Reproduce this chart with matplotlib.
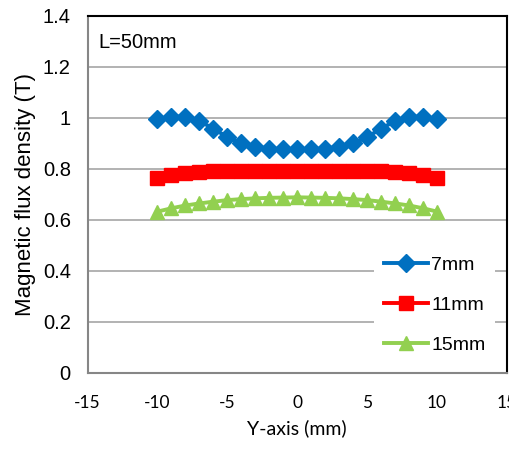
import matplotlib
matplotlib.use("Agg")
import matplotlib.pyplot as plt

x = [-10, -9, -8, -7, -6, -5, -4, -3, -2, -1, 0, 1, 2, 3, 4, 5, 6, 7, 8, 9, 10]
b7 = [0.993, 1.004, 1.004, 0.987, 0.957, 0.924, 0.899, 0.886, 0.879, 0.877, 0.876,
      0.877, 0.879, 0.886, 0.899, 0.924, 0.957, 0.987, 1.004, 1.004, 0.993]
b11 = [0.763, 0.776, 0.785, 0.789, 0.791, 0.791, 0.791, 0.791, 0.791, 0.791, 0.791,
       0.791, 0.791, 0.791, 0.791, 0.791, 0.791, 0.789, 0.785, 0.776, 0.763]
b15 = [0.632, 0.645, 0.656, 0.664, 0.671, 0.677, 0.681, 0.684, 0.686, 0.687, 0.688,
       0.687, 0.686, 0.684, 0.681, 0.677, 0.671, 0.664, 0.656, 0.645, 0.632]
labels = ["7mm", "11mm", "15mm"]
xticks = [-15, -10, -5, 0, 5, 10, 15]
yticks = [0, 0.2, 0.4, 0.6, 0.8, 1.0, 1.2, 1.4]
ytick_labels = ["0", "0.2", "0.4", "0.6", "0.8", "1", "1.2", "1.4"]

fig = plt.figure(figsize=(5.09, 4.5), dpi=100)
ax = fig.add_axes([87.5/509, 1 - 373/450, (507 - 87.5)/509, (373 - 15.5)/450])

ax.plot(x, b7, color="#0070C0", lw=2.8, marker="D", ms=9.5, label=labels[0], zorder=5)
ax.plot(x, b11, color="#FF0000", lw=2.8, marker="s", ms=9.5, label=labels[1], zorder=4)
ax.plot(x, b15, color="#92D050", lw=2.8, marker="^", ms=10.5, label=labels[2], zorder=3)

ax.set_xlim(-15, 15)
ax.set_ylim(0, 1.4)
ax.set_xticks(xticks)
ax.set_xticklabels([str(t) for t in xticks], fontfamily="Lato", fontsize=12.5)
ax.set_yticks(yticks)
ax.set_yticklabels(ytick_labels, fontfamily="Liberation Sans", fontsize=14.5)
ax.tick_params(axis="both", length=0)
ax.tick_params(axis="x", pad=16)
ax.tick_params(axis="y", pad=12)
ax.yaxis.grid(True, color="#A6A6A6", lw=1.2)
ax.set_axisbelow(True)

for s in ["left", "bottom"]:
    ax.spines[s].set_color("#868686")
    ax.spines[s].set_linewidth(1.5)
for s in ["top", "right"]:
    ax.spines[s].set_color("black")
    ax.spines[s].set_linewidth(1.5)

ax.set_xlabel("Y-axis (mm)", fontfamily="Lato", fontsize=14, labelpad=6)
ax.set_ylabel("Magnetic flux density (T)", fontfamily="Liberation Sans", fontsize=16, labelpad=5)

ax.text(0.025, 0.925, "L=50mm", transform=ax.transAxes, fontfamily="Liberation Sans",
        fontsize=14.5, va="center", ha="left")

leg = ax.legend(loc="lower right", bbox_to_anchor=(0.995, 0.0), frameon=True,
                prop={"family": "Liberation Sans", "size": 14},
                handlelength=2.3, handletextpad=0.15, labelspacing=1.15,
                borderpad=0.5, fancybox=False)
leg.get_frame().set_edgecolor("none")
leg.get_frame().set_facecolor("white")
leg.get_frame().set_alpha(1)

fig.savefig("out.png", dpi=100)
